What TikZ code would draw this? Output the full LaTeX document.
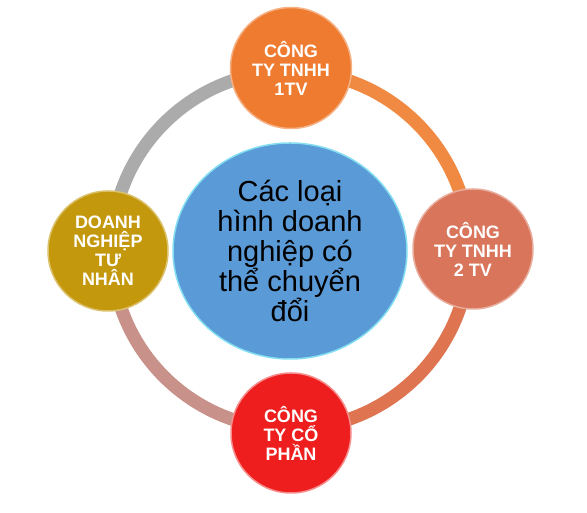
\documentclass[tikz,border=0pt]{standalone}
\usepackage{fontspec}
\setmainfont{Liberation Sans}
\usetikzlibrary{shapes.geometric,calc}
\definecolor{cTop}{HTML}{EF7B30}
\definecolor{cRight}{HTML}{D9755A}
\definecolor{cLeft}{HTML}{C4980C}
\definecolor{cBottom}{HTML}{EE1E1E}
\definecolor{cCenter}{HTML}{5A9AD6}
\definecolor{rTR}{HTML}{F08A42}
\definecolor{rBR}{HTML}{DE7450}
\definecolor{rBL}{HTML}{C8928A}
\definecolor{rTL}{HTML}{ABABAB}
\tikzset{
  ball/.style={circle, inner sep=0pt, minimum size=#1, text=white,
    font=\bfseries\fontsize{18}{19}\selectfont, align=center},
  ringarc/.style={line width=13pt},
  hub/.style={ellipse, inner sep=0pt, minimum width=234pt, minimum height=216pt,
    fill=cCenter, draw=cCenter!55!cyan!60!white, line width=1.5pt,
    font=\fontsize{29}{30}\selectfont, align=center, text=black}
}
\begin{document}
\begin{tikzpicture}[x=1pt,y=1pt]
\useasboundingbox (0,0) rectangle (587,513);
\fill[white] (0,0) rectangle (587,513);
\coordinate (ringc) at (290.5,263);
% ring arcs
\draw[ringarc, rTR] ($(ringc)+(90:179)$) arc[start angle=90, end angle=0, radius=179];
\draw[ringarc, rBR] ($(ringc)+(0:179)$) arc[start angle=0, end angle=-90, radius=179];
\draw[ringarc, rBL] ($(ringc)+(-90:179)$) arc[start angle=-90, end angle=-180, radius=179];
\draw[ringarc, rTL] ($(ringc)+(180:179)$) arc[start angle=180, end angle=90, radius=179];
% center
\node[hub] (hub) at (290,262) {Các loại\\hình doanh\\nghiệp có\\thể chuyển\\đổi};
% outer circles
\node[ball=121pt, fill=cTop, draw=cTop!60!white, line width=1.5pt] (top) at (291,445) {CÔNG\\TY TNHH\\1TV};
\node[ball=120pt, fill=cRight, draw=cRight!60!white, line width=1.5pt] (right) at (473,264) {CÔNG\\TY TNHH\\2 TV};
\node[ball=120pt, fill=cLeft, draw=cLeft!60!white, line width=1.5pt] (left) at (108,262) {DOANH\\NGHIỆP\\TƯ\\NHÂN};
\node[ball=120pt, fill=cBottom, draw=cBottom!50!white, line width=1.5pt] (bottom) at (291,80) {CÔNG\\TY CỔ\\PHẦN};
\end{tikzpicture}
\end{document}
